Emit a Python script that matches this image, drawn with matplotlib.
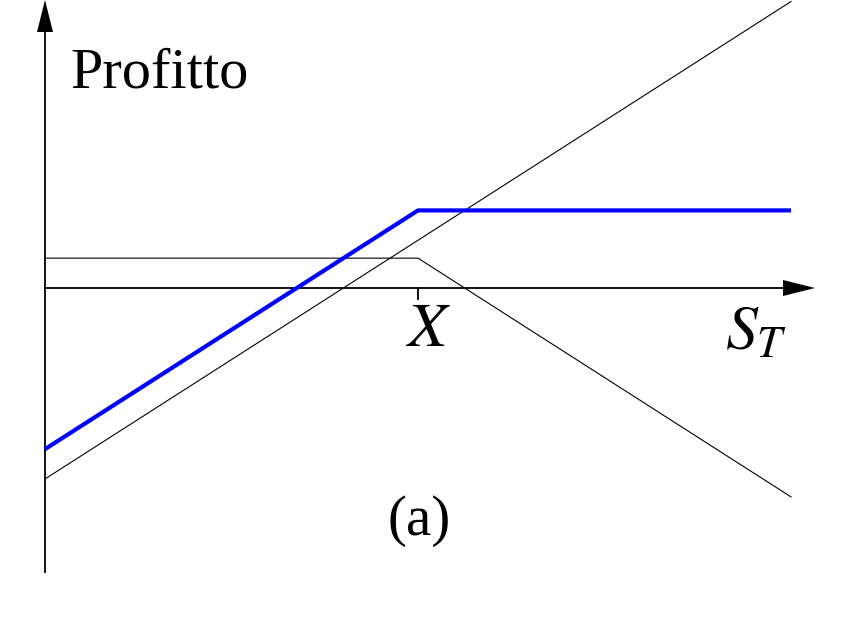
import matplotlib
matplotlib.use("Agg")
import matplotlib.pyplot as plt

# ------------------------------------------------------------------
# Dati: covered call (azione lunga + call corta), strike X = 50
# ------------------------------------------------------------------
S_pts        = [0, 50, 100]
azione       = [-25.6, 6.4, 38.4]      # posizione lunga sull'azione
call_corta   = [4.0, 4.0, -28.0]       # call venduta (premio = 4)
covered_call = [-21.6, 10.4, 10.4]     # somma delle due posizioni

strike = 50
etichetta_y = "Profitto"
etichetta_x = r"$S_T$"
etichetta_strike = r"$X$"
sottotitolo = "(a)"

plt.rcParams["mathtext.fontset"] = "stix"
plt.rcParams["font.family"] = ["Liberation Serif", "DejaVu Serif"]

# scala: 7.46 px per unita', origine in (45, 288) px
k = 7.46
fig = plt.figure(figsize=(8.5, 6.21), dpi=100)
ax = fig.add_axes([0, 0, 1, 1])
ax.set_xlim(-45 / k, (850 - 45) / k)
ax.set_ylim((288 - 621) / k, 288 / k)
ax.axis("off")

# --- assi con frecce ---
y_top = 288 / k
y_bot = (288 - 572) / k
x_tip = (815 - 45) / k
head_l = 32 / k
head_w = 8 / k
ax.plot([0, 0], [y_bot, y_top - head_l], color="black", lw=1.3)
ax.fill([-head_w, head_w, 0], [y_top - head_l, y_top - head_l, y_top],
        color="black", lw=0)
ax.plot([0, x_tip - head_l], [0, 0], color="black", lw=1.3)
ax.fill([x_tip - head_l, x_tip - head_l, x_tip], [head_w, -head_w, 0],
        color="black", lw=0)
# tacca sullo strike
ax.plot([strike, strike], [0, -11 / k], color="black", lw=1.3)

# --- linee di payoff ---
ax.plot(S_pts, azione, color="black", lw=0.8)
ax.plot(S_pts, call_corta, color="black", lw=0.8)
ax.plot(S_pts, covered_call, color="#0000ff", lw=3, solid_capstyle="butt")

# --- testi ---
ax.text(3.35, (288 - 88) / k, etichetta_y, fontsize=42,
        ha="left", va="baseline")
ax.text((429 - 45) / k, (288 - 346) / k, etichetta_strike, fontsize=46,
        ha="center", va="baseline")
ax.text((725 - 45) / k, (288 - 350) / k, etichetta_x, fontsize=46,
        ha="left", va="baseline")
ax.text((419 - 45) / k, (288 - 535) / k, sottotitolo, fontsize=41,
        ha="center", va="baseline")

fig.savefig("out.png", dpi=100)
